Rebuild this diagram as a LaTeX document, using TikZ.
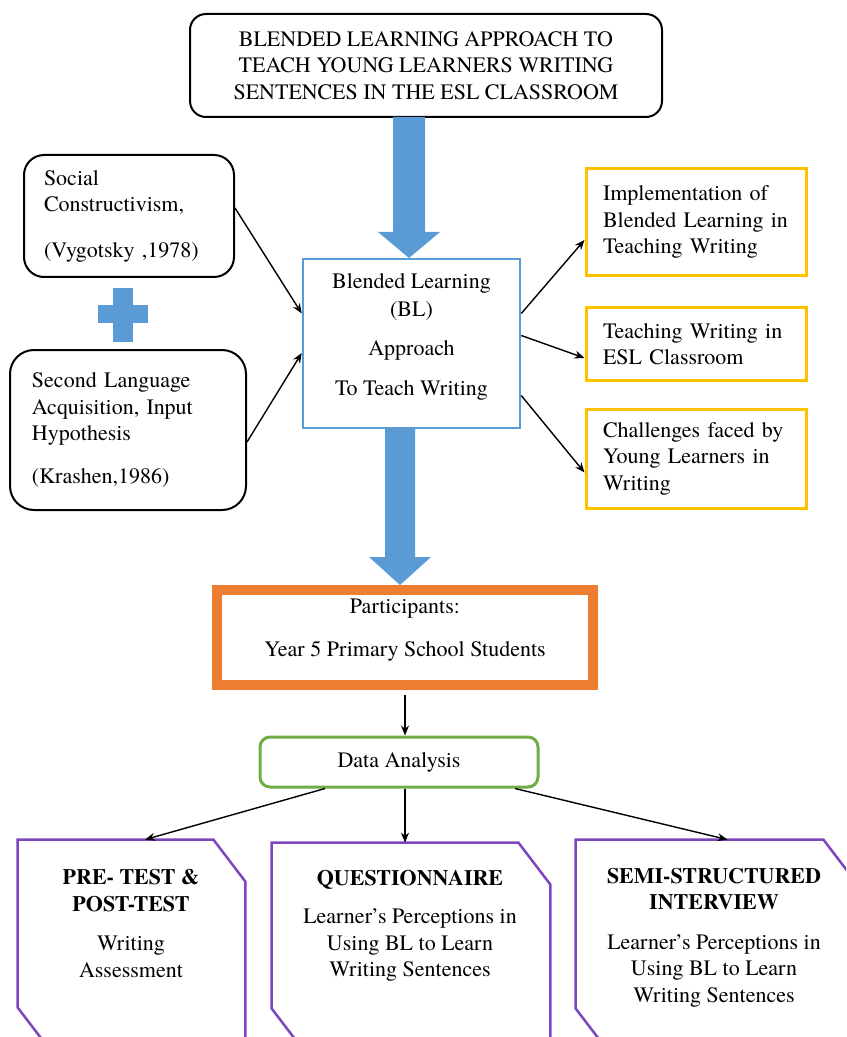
\documentclass[tikz,border=0pt]{standalone}
\usepackage{fontspec}
\setmainfont{texgyretermes}[Extension=.otf, UprightFont=*-regular, BoldFont=*-bold, ItalicFont=*-italic, BoldItalicFont=*-bolditalic]
\usetikzlibrary{arrows.meta,calc}
\definecolor{bblue}{HTML}{5B9BD5}
\definecolor{byellow}{HTML}{FFC000}
\definecolor{borange}{HTML}{ED7D31}
\definecolor{bgreen}{HTML}{70AD47}
\definecolor{bpurple}{RGB}{125,70,190}
\newcommand\snipbox[1]{\draw[bpurple, line width=1.25pt] (#1.north west) -- ([xshift=-16pt]#1.north east) -- ([yshift=-21pt]#1.north east) -- (#1.south east) -- ([xshift=16pt]#1.south west) -- ([yshift=21pt]#1.south west) -- cycle;}
\begin{document}
\begin{tikzpicture}[x=0.5pt,y=-0.5pt,
  font=\fontsize{11}{13.3}\selectfont,
  conn/.style={-{Stealth[length=5pt,width=4pt]}, line width=0.7pt},
  roundbox/.style={draw, line width=1pt, rounded corners=8pt},
  ybox/.style={draw=byellow, line width=1.5pt, minimum width=110pt, text width=93pt, inner xsep=8.5pt, align=left},
  ghost/.style={draw=none, inner sep=0pt},
  inner/.style={align=center, inner sep=0pt}]
\useasboundingbox (0,0) rectangle (846,1037);
\clip (0,0) rectangle (846,1037);

% title
\node (title) at (426,65.5) [roundbox, minimum width=236pt, minimum height=51.5pt, align=center]
  {BLENDED LEARNING APPROACH TO\\TEACH YOUNG LEARNERS WRITING\\SENTENCES IN THE ESL CLASSROOM};

% left boxes
\node (soc) at (129,216) [roundbox, rounded corners=10pt, minimum width=105pt, minimum height=61pt, text width=85pt, inner xsep=10pt, align=left]
  {Social\\Constructivism,\\[9.5pt](Vygotsky ,1978)};
\node (sla) at (128,430) [roundbox, rounded corners=12pt, minimum width=118pt, minimum height=80pt, text width=96pt, inner xsep=11pt, align=left]
  {Second Language\\Acquisition, Input\\Hypothesis\\[8pt](Krashen,1986)};

% plus sign
\fill[bblue] (113,288) rectangle (133,342);
\fill[bblue] (98,305) rectangle (148,323);

% centre box
\node (bl) at (411.5,343.5) [draw=bblue, line width=1.25pt, minimum width=108.5pt, minimum height=84.5pt] {};
\node (blt) at (411.5,337) [inner] {Blended Learning\\[0.5pt](BL)\\[6.5pt]Approach\\[6.5pt]To Teach Writing};

% right boxes
\node (y1) at (696,222) [ybox, minimum height=53.5pt] {Implementation of\\Blended Learning in\\Teaching Writing};
\node (y2) at (696,344) [ybox, minimum height=36.5pt] {Teaching Writing in\\ESL Classroom};
\node (y3) at (696,458.5) [ybox, minimum height=49.5pt] {Challenges faced by\\Young Learners in\\Writing};

% big blue arrows
\fill[bblue] (393,117) -- (425,117) -- (425,232) -- (440,232) -- (409,258) -- (378,232) -- (393,232) -- cycle;
\fill[bblue] (385,429) -- (415,429) -- (415,557) -- (431,557) -- (400,585) -- (369,557) -- (385,557) -- cycle;

% participants
\node (part) at (405,637.5) [draw=borange, line width=5pt, minimum width=188pt, minimum height=47.5pt] {};
\node (partt) at (405,630) [inner] {Participants:\\[8.5pt]Year 5 Primary School Students};

% data analysis
\node (da) at (399,762) [draw=bgreen, line width=1.5pt, rounded corners=5pt, minimum width=139pt, minimum height=25pt] {Data Analysis};

% bottom snipped boxes
\node (s1) at (131.5,944.5) [ghost, minimum width=113.5pt, minimum height=104.5pt] {};
\node (s2) at (411,946.5) [ghost, minimum width=139pt, minimum height=103.5pt] {};
\node (s3) at (715.5,945) [ghost, minimum width=139.5pt, minimum height=105pt] {};
\snipbox{s1}
\snipbox{s2}
\snipbox{s3}
\node (t1) at (131,923.5) [inner] {\textbf{PRE- TEST \&}\\\textbf{POST-TEST}\\[6.5pt]Writing\\Assessment};
\node (t2) at (410,926) [inner] {\textbf{QUESTIONNAIRE}\\[5.5pt]Learner’s Perceptions in\\Using BL to Learn\\Writing Sentences};
\node (t3) at (714,937.5) [inner] {\textbf{SEMI-STRUCTURED}\\\textbf{INTERVIEW}\\[6.5pt]Learner’s Perceptions in\\Using BL to Learn\\Writing Sentences};

% connectors
\draw[conn] ([yshift=4pt]soc.east) -- ([yshift=15pt]bl.west);
\draw[conn] ([yshift=-6pt]sla.east) -- ([yshift=-4.75pt]bl.west);
\draw[conn] ([yshift=15pt]bl.east) -- ([yshift=-9pt]y1.west);
\draw[conn] ([yshift=4pt]bl.east) -- ([yshift=-7pt]y2.west);
\draw[conn] ([yshift=-26pt]bl.east) -- ([yshift=-7pt]y3.west);
\draw[conn] ([yshift=-2.5pt]part.south) -- (part.south |- da.north);
\draw[conn] ([xshift=-37pt]da.south) -- ([xshift=6.75pt]s1.north);
\draw[conn] ([xshift=3pt]da.south) -- ([xshift=3pt]da.south |- s2.north);
\draw[conn] ([xshift=58pt]da.south) -- ([xshift=6pt]s3.north);
\end{tikzpicture}
\end{document}
